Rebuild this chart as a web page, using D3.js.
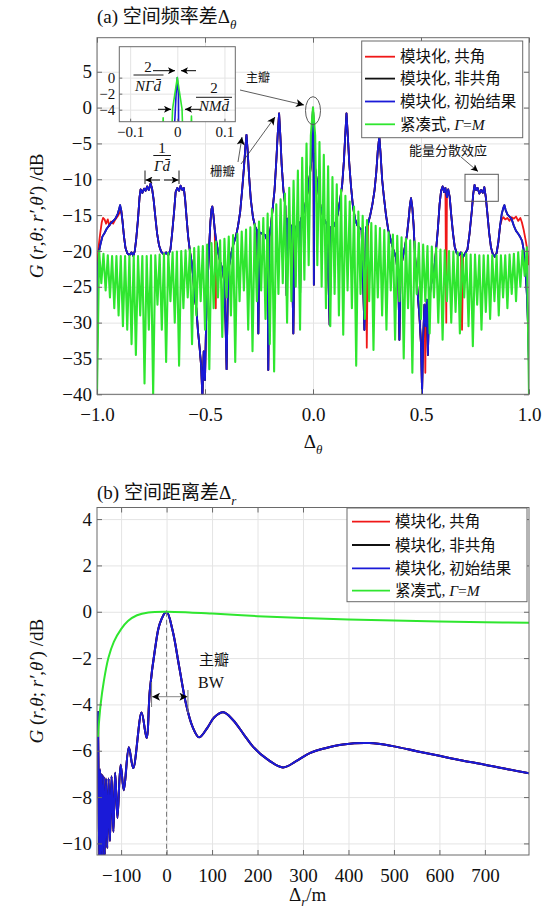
<!DOCTYPE html>
<html><head><meta charset="utf-8">
<script src="https://cdn.jsdelivr.net/npm/d3@7/dist/d3.min.js"></script>
<style>
body{margin:0;background:#fff}
svg{display:block}
text{font-family:"Liberation Serif","Times New Roman","Noto Sans CJK SC",serif;fill:#111}
</style>
</head><body>
<svg id="c" width="547" height="919"></svg>
<script>
// ---------------- DATA ----------------
const seriesNames = ["模块化, 共角", "模块化, 非共角", "模块化, 初始结果", "紧凑式, "];
const seriesColors = ["#f01818", "#111111", "#1a1ad8", "#2fe62f"];

const thetaTicks = [-1, -0.5, 0, 0.5, 1];
const thetaTickLabels = ["−1.0", "−0.5", "0.0", "0.5", "1.0"];
const gainTicksA = [-40, -35, -30, -25, -20, -15, -10, -5, 0, 5];
const gainTickLabelsA = ["−40", "−35", "−30", "−25", "−20", "−15", "−10", "−5", "0", "5"];
const insetXTicks = [-0.1, 0, 0.1];
const insetXTickLabels = ["−0.1", "0", "0.1"];
const insetYTicks = [0, -2, -4];
const insetYTickLabels = ["0", "−2", "−4"];
const rangeTicks = [-100, 0, 100, 200, 300, 400, 500, 600, 700];
const rangeTickLabels = ["−100", "0", "100", "200", "300", "400", "500", "600", "700"];
const gainTicksB = [-10, -8, -6, -4, -2, 0, 2, 4];
const gainTickLabelsB = ["−10", "−8", "−6", "−4", "−2", "0", "2", "4"];

// (a) modular, initial result  [Δθ, dB]
const blueTheta = [
 [-1.000,-37],[-0.998,-28],[-0.995,-22],[-0.99,-20],[-0.985,-19.2],[-0.975,-18],[-0.965,-17.5],[-0.955,-16.9],
 [-0.945,-16.5],[-0.935,-16.1],[-0.925,-15.8],[-0.915,-15.5],[-0.905,-14.9],[-0.898,-14.2],[-0.893,-13.6],
 [-0.888,-14.3],[-0.882,-15.8],[-0.875,-18.0],[-0.868,-19.6],[-0.86,-20.3],[-0.85,-20.6],[-0.84,-20.2],
 [-0.832,-20.7],[-0.825,-20.0],[-0.818,-18.2],[-0.81,-15.5],[-0.803,-12.5],[-0.798,-11.4],[-0.79,-11.9],
 [-0.782,-11.3],[-0.775,-11.6],[-0.768,-11.0],[-0.76,-11.5],[-0.752,-10.6],[-0.745,-11.3],[-0.738,-12.8],
 [-0.73,-15.2],[-0.722,-17.5],[-0.713,-19.2],[-0.703,-20.1],[-0.69,-20.5],[-0.68,-20.2],[-0.67,-20.6],
 [-0.66,-19.8],[-0.652,-17.5],[-0.643,-14.5],[-0.636,-11.8],[-0.628,-11.2],[-0.62,-11.6],[-0.613,-10.9],
 [-0.605,-11.5],[-0.598,-11.2],[-0.592,-12.8],[-0.585,-15.5],[-0.578,-18.0],[-0.570,-20.0],[-0.562,-21.5],
 [-0.555,-23.5],[-0.548,-26.5],[-0.54,-28.0],[-0.533,-31.0],[-0.525,-33.5],[-0.518,-36.0],[-0.512,-40.5],
 [-0.506,-34],[-0.5,-38],[-0.495,-30],[-0.488,-24.5],[-0.481,-19.5],[-0.475,-16.0],[-0.47,-14.2],
 [-0.466,-13.8],[-0.461,-15.0],[-0.455,-17.0],[-0.447,-18.8],[-0.44,-20.0],[-0.43,-21.5],[-0.42,-22.5],
 [-0.412,-24],[-0.405,-30],[-0.400,-36.5],[-0.395,-27],[-0.388,-22.0],[-0.378,-20.3],[-0.368,-19.0],
 [-0.357,-18.0],[-0.347,-16.5],[-0.337,-14.5],[-0.328,-11.5],[-0.32,-8.5],[-0.313,-5.5],[-0.308,-3.8],
 [-0.303,-5.8],[-0.296,-9.5],[-0.288,-12.8],[-0.278,-15.3],[-0.268,-16.6],[-0.258,-17.2],[-0.253,-31.5],
 [-0.248,-17.4],[-0.235,-17.6],[-0.222,-17.8],[-0.212,-18.5],[-0.207,-36.6],[-0.202,-18.0],[-0.195,-16.5],
 [-0.187,-14.2],[-0.178,-11.5],[-0.170,-7.5],[-0.163,-3.5],[-0.157,-0.8],[-0.151,-4.0],[-0.145,-8.0],
 [-0.137,-11.5],[-0.128,-13.8],[-0.122,-26.2],[-0.118,-15.5],[-0.108,-16.2],[-0.1,-16.6],[-0.091,-31.5],
 [-0.085,-16.8],[-0.075,-16.5],[-0.065,-16.0],[-0.06,-27],[-0.055,-15.5],[-0.045,-14.8],[-0.035,-13.5],
 [-0.025,-11.8],[-0.015,-9.5],[-0.008,-7.5],[-0.005,-5.0],[-0.0025,-2.0],[0,0],[0.0025,-2.2],[0.004,-24.7],
 [0.006,-6.5],[0.01,-8.5],[0.017,-10],[0.025,-11.8],[0.035,-13.8],[0.045,-15.0],[0.055,-15.8],[0.065,-16.3],
 [0.077,-30.3],[0.085,-16.6],[0.095,-16.6],[0.105,-16.0],[0.115,-14.8],[0.125,-13.0],[0.135,-10.8],
 [0.143,-7.5],[0.149,-4.0],[0.155,-0.8],[0.161,-3.8],[0.168,-7.8],[0.176,-11.0],[0.185,-13.8],[0.195,-15.6],
 [0.205,-16.4],[0.215,-16.8],[0.225,-17.0],[0.238,-31.0],[0.245,-16.8],[0.255,-16.2],[0.265,-15.0],
 [0.275,-13.5],[0.285,-11.5],[0.293,-9.0],[0.3,-6.0],[0.307,-4.0],[0.313,-6.5],[0.32,-10.0],[0.328,-12.4],
 [0.338,-15.0],[0.348,-17.0],[0.36,-18.5],[0.372,-19.8],[0.385,-21.0],[0.395,-24],[0.40,-32.4],[0.405,-23],
 [0.415,-21.0],[0.425,-19.5],[0.435,-17.8],[0.443,-15.5],[0.449,-13.5],[0.454,-12.65],[0.46,-14.0],
 [0.466,-16.5],[0.472,-20.5],[0.478,-23.1],[0.486,-26.5],[0.493,-29.2],[0.5,-33],[0.505,-39.8],[0.51,-32],
 [0.516,-27.5],[0.522,-30.5],[0.527,-26.8],[0.532,-34.5],[0.537,-28.0],[0.543,-25.5],[0.55,-24.0],
 [0.56,-23.0],[0.568,-20.5],[0.578,-17.0],[0.586,-13.5],[0.593,-11.6],[0.6,-11.0],[0.607,-11.8],
 [0.613,-11.2],[0.62,-12.5],[0.626,-11.4],[0.633,-12.5],[0.64,-15.0],[0.648,-17.5],[0.656,-19.4],
 [0.665,-20.3],[0.675,-20.6],[0.685,-20.2],[0.695,-20.8],[0.705,-20.3],[0.715,-19.8],[0.725,-17.5],
 [0.735,-14.5],[0.742,-12.0],[0.748,-10.8],[0.755,-11.5],[0.762,-11.2],[0.77,-12.0],[0.778,-11.5],
 [0.786,-11.9],[0.793,-11.1],[0.8,-12.5],[0.808,-15.0],[0.816,-17.6],[0.824,-19.5],[0.832,-20.4],
 [0.842,-20.8],[0.85,-20.3],[0.858,-18.8],[0.866,-16.5],[0.874,-14.8],[0.882,-13.9],[0.886,-13.6],
 [0.892,-14.3],[0.9,-14.9],[0.91,-15.2],[0.92,-15.6],[0.93,-16.5],[0.94,-17.2],[0.95,-17.6],[0.96,-18.1],
 [0.968,-18.6],[0.975,-19.8],[0.98,-21.5],[0.985,-23.5],[0.99,-26.0],[0.995,-30.0],[1.0,-36.1]
];
// (a) modular, common angle: where it departs from the initial result
const redThetaLeft = [
 [-1.0,-23.5],[-0.998,-21.3],[-0.993,-19.5],[-0.985,-17.5],[-0.978,-16.0],[-0.972,-15.4],[-0.965,-15.6],
 [-0.958,-16.2],[-0.95,-15.6],[-0.943,-16.5],[-0.935,-15.9],[-0.925,-16.2],[-0.915,-15.6],[-0.905,-15.2],
 [-0.898,-14.8]
];
const redThetaRight = [
 [0.874,-15.6],[0.882,-15.3],[0.89,-15.6],[0.90,-15.4],[0.91,-15.8],[0.92,-15.3],[0.93,-15.5],[0.94,-15.2],
 [0.95,-15.8],[0.96,-15.4],[0.967,-16.0],[0.975,-17.0],[0.985,-18.6],[0.993,-20.0],[1.0,-22.0]
];
const redThetaSpikes = [[-0.45,-28],[0.249,-33.5],[0.52,-37],[0.617,-30],[0.69,-31]];

// (a) compact array Γ=M : [Δθ, dB]
const greenTheta = [
 [-1.00,-40],[-0.99,-20.0],[-0.98,-24.5],[-0.97,-20.4],[-0.96,-25.5],[-0.95,-20.6],[-0.94,-26.5],[-0.93,-20.7],[-0.92,-28],[-0.91,-20.7],
 [-0.90,-29],[-0.89,-20.7],[-0.88,-30.5],[-0.87,-20.7],[-0.86,-31],[-0.85,-20.7],[-0.84,-33],[-0.83,-20.7],[-0.82,-34.5],[-0.81,-20.7],
 [-0.80,-29],[-0.79,-20.7],[-0.78,-38.5],[-0.77,-20.7],[-0.76,-31],[-0.75,-20.6],[-0.74,-40],[-0.73,-20.6],[-0.72,-27.5],[-0.71,-20.5],
 [-0.70,-31],[-0.69,-20.4],[-0.68,-35.5],[-0.67,-20.3],[-0.66,-27],[-0.65,-20.2],[-0.64,-30],[-0.63,-20.1],[-0.62,-36],[-0.61,-20.0],
 [-0.60,-28],[-0.59,-19.9],[-0.58,-26.5],[-0.57,-19.8],[-0.56,-33],[-0.55,-19.6],[-0.54,-29],[-0.53,-19.4],[-0.52,-27],[-0.51,-19.3],
 [-0.50,-31],[-0.49,-19.1],[-0.48,-36.5],[-0.47,-18.9],[-0.46,-28],[-0.45,-18.7],[-0.44,-26.5],[-0.43,-18.5],[-0.42,-32],[-0.41,-18.3],
 [-0.40,-26.5],[-0.39,-18.0],[-0.38,-29],[-0.37,-17.8],[-0.36,-35.5],[-0.35,-17.6],[-0.34,-27],[-0.33,-17.3],[-0.32,-25.5],[-0.31,-17.0],
 [-0.30,-31],[-0.29,-16.7],[-0.28,-34],[-0.27,-16.3],[-0.26,-27],[-0.25,-15.9],[-0.24,-25.5],[-0.23,-15.4],[-0.22,-29.5],[-0.21,-14.8],
 [-0.20,-33],[-0.19,-14.2],[-0.18,-36.8],[-0.17,-13.5],[-0.16,-26],[-0.15,-12.8],[-0.14,-24.5],[-0.13,-12.0],[-0.12,-30],[-0.11,-11.2],
 [-0.10,-27],[-0.09,-10.2],[-0.08,-25],[-0.07,-8.8],[-0.06,-31],[-0.05,-7.0],[-0.04,-24],[-0.03,-5.0],[-0.02,-22],[-0.01,-3.9],
 [0.00,0],
 [0.01,-3.9],[0.02,-22],[0.03,-4.8],[0.04,-25],[0.05,-6.6],[0.06,-28],[0.07,-8.2],[0.08,-30.5],[0.09,-9.7],[0.10,-26],
 [0.11,-10.7],[0.12,-29],[0.13,-11.5],[0.14,-31.7],[0.15,-12.3],[0.16,-25.5],[0.17,-13.1],[0.18,-28],[0.19,-13.8],[0.20,-36],
 [0.21,-14.5],[0.22,-26],[0.23,-15.1],[0.24,-29.5],[0.25,-15.7],[0.26,-27],[0.27,-16.1],[0.28,-33.8],[0.29,-16.5],[0.30,-26.5],
 [0.31,-16.8],[0.32,-29],[0.33,-17.1],[0.34,-31],[0.35,-17.4],[0.36,-25.5],[0.37,-17.7],[0.38,-32.4],[0.39,-17.9],[0.40,-27],
 [0.41,-18.1],[0.42,-35],[0.43,-18.3],[0.44,-28],[0.45,-18.5],[0.46,-37],[0.47,-18.7],[0.48,-26],[0.49,-18.9],[0.50,-29.5],
 [0.51,-19.1],[0.52,-27],[0.53,-19.3],[0.54,-31.5],[0.55,-19.4],[0.56,-26.5],[0.57,-19.6],[0.58,-30],[0.59,-19.8],[0.60,-32.4],
 [0.61,-19.9],[0.62,-27],[0.63,-20.0],[0.64,-30],[0.65,-20.1],[0.66,-28.5],[0.67,-20.2],[0.68,-31.5],[0.69,-20.3],[0.70,-26.5],
 [0.71,-20.4],[0.72,-30.5],[0.73,-20.5],[0.74,-33.3],[0.75,-20.5],[0.76,-27.5],[0.77,-20.6],[0.78,-31],[0.79,-20.6],[0.80,-28.5],
 [0.81,-20.6],[0.82,-29.5],[0.83,-20.6],[0.84,-27],[0.85,-20.6],[0.86,-29],[0.87,-20.6],[0.88,-26.5],[0.89,-20.6],[0.90,-28],
 [0.91,-20.5],[0.92,-26],[0.93,-20.4],[0.94,-27],[0.95,-20.2],[0.96,-25],[0.97,-19.9],[0.98,-23.5],[0.99,-19.5],[1.00,-40]
];

// (b) range difference [Δr (m), dB]
const blueRange = [
 [-151,-4.3],[-149.5,-7.5],[-148,-10.7],[-146.3,-6.8],[-144.5,-10.7],[-142.5,-7.0],[-140.5,-10.7],[-138.3,-7.1],
 [-136,-10.5],[-133.3,-7.2],[-130.5,-10.2],[-127.5,-7.2],[-124.5,-9.9],[-121,-7.1],[-117,-9.5],[-113,-6.95],
 [-108,-8.9],[-101,-6.6],[-94,-7.7],[-83,-5.85],[-73.3,-6.75],[-55,-4.35],[-44,-5.45],[-36.7,-3.37],
 [-25.7,-1.65],[-14.7,-0.5],[0,0],[13,-0.79],[27.7,-2.37],[42.4,-3.95],[57,-4.96],[71.7,-5.42],[90,-5.0],
 [105,-4.55],[125,-4.34],[146,-4.67],[170,-5.3],[190,-5.82],[219,-6.33],[256,-6.72],[285,-6.45],[315,-6.1],
 [351,-5.88],[388,-5.73],[446,-5.67],[497,-5.8],[550,-6.02],[600,-6.22],[650,-6.42],[700,-6.6],[750,-6.8],[797,-6.97]
];
const greenRange = [
 [-151,-5.4],[-145,-4.0],[-138,-3.0],[-128,-2.0],[-116,-1.3],[-100,-0.75],[-85,-0.4],[-65,-0.15],[-40,-0.03],
 [0,0],[50,-0.03],[100,-0.08],[200,-0.19],[300,-0.27],[400,-0.33],[500,-0.38],[600,-0.42],[700,-0.45],[797,-0.48]
];

// ---------------- DRAW ----------------
const svg = d3.select("#c");
const defs = svg.append("defs");
defs.append("marker").attr("id","ah").attr("viewBox","0 0 10 10").attr("refX",10).attr("refY",5)
  .attr("markerWidth",10).attr("markerHeight",8).attr("markerUnits","userSpaceOnUse")
  .attr("orient","auto-start-reverse")
  .append("path").attr("d","M0,0 L10,5 L0,10 L2.5,5 z").attr("fill","#000");
defs.append("marker").attr("id","ahs").attr("viewBox","0 0 10 10").attr("refX",10).attr("refY",5)
  .attr("markerWidth",9).attr("markerHeight",7).attr("markerUnits","userSpaceOnUse")
  .attr("orient","auto-start-reverse")
  .append("path").attr("d","M0,0 L10,5 L0,10 L2.5,5 z").attr("fill","#000");

const PA = {l:97, r:529, t:37.7, b:394.3};
const PB = {l:97, r:529, t:507.5, b:855};
const xA = d3.scaleLinear().domain([-1,1]).range([PA.l,PA.r]);
const yA = d3.scaleLinear().domain([-40,9.75]).range([PA.b,PA.t]);
const xB = d3.scaleLinear().domain([-153,797]).range([PB.l,PB.r]);
const yB = d3.scaleLinear().domain([-10.5,4.5]).range([PB.b,PB.t]);

function clip(id,P){
  defs.append("clipPath").attr("id",id).append("rect")
    .attr("x",P.l).attr("y",P.t).attr("width",P.r-P.l).attr("height",P.b-P.t);
}
clip("cA",PA); clip("cB",PB);

function grid(P,x,y,xt,yt){
  const g = svg.append("g");
  g.append("g").attr("transform",`translate(0,${P.b})`)
    .call(d3.axisBottom(x).tickValues(xt).tickSize(-(P.b-P.t)).tickFormat(""))
    .call(s=>{s.select(".domain").remove(); s.selectAll("line").attr("stroke","#e4e4e4");});
  g.append("g").attr("transform",`translate(${P.l},0)`)
    .call(d3.axisLeft(y).tickValues(yt).tickSize(-(P.r-P.l)).tickFormat(""))
    .call(s=>{s.select(".domain").remove(); s.selectAll("line").attr("stroke","#e4e4e4");});
}
function frame(P,x,y,xt,xl,yt,yl,fs,tl,xpad){
  const g = svg.append("g");
  const style = s=>{s.select(".domain").remove(); s.selectAll("line").attr("stroke","#6a6a6a");
    s.selectAll("text").attr("font-family",'"Liberation Serif","Times New Roman",serif').attr("font-size",fs).attr("fill","#111");};
  g.append("g").attr("transform",`translate(0,${P.b})`)
    .call(d3.axisBottom(x).tickValues(xt).tickFormat((d,i)=>xl[i]).tickSizeInner(-tl).tickSizeOuter(0).tickPadding(xpad)).call(style);
  g.append("g").attr("transform",`translate(0,${P.t})`)
    .call(d3.axisTop(x).tickValues(xt).tickFormat("").tickSizeInner(-tl).tickSizeOuter(0)).call(style);
  g.append("g").attr("transform",`translate(${P.l},0)`)
    .call(d3.axisLeft(y).tickValues(yt).tickFormat((d,i)=>yl[i]).tickSizeInner(-tl).tickSizeOuter(0).tickPadding(5)).call(style);
  g.append("g").attr("transform",`translate(${P.r},0)`)
    .call(d3.axisRight(y).tickValues(yt).tickFormat("").tickSizeInner(-tl).tickSizeOuter(0)).call(style);
  g.append("rect").attr("x",P.l).attr("y",P.t).attr("width",P.r-P.l).attr("height",P.b-P.t)
    .attr("fill","none").attr("stroke","#6a6a6a").attr("stroke-width",1);
}
function curve(clipId,data,x,y,color,w,cv){
  const line = d3.line().x(d=>x(d[0])).y(d=>y(d[1])).curve(cv||d3.curveLinear);
  svg.append("path").attr("clip-path",`url(#${clipId})`).attr("d",line(data))
    .attr("fill","none").attr("stroke",color).attr("stroke-width",w).attr("stroke-linejoin","round");
}
function txt(x,y,s,o){
  const t = svg.append("text").attr("x",x).attr("y",y).text(s);
  if(o) for(const k in o) t.attr(k,o[k]);
  return t;
}
function line(x1,y1,x2,y2,o){
  const l = svg.append("line").attr("x1",x1).attr("y1",y1).attr("x2",x2).attr("y2",y2)
    .attr("stroke","#000").attr("stroke-width",1);
  if(o) for(const k in o) l.attr(k,o[k]);
  return l;
}
const CJK = '"Noto Sans CJK SC",sans-serif';

// ===== Panel (a) =====
grid(PA,xA,yA,thetaTicks,gainTicksA);
const redTheta = redThetaLeft
  .concat(blueTheta.filter(d=>d[0]>-0.89 && d[0]<0.87), redThetaSpikes)
  .sort((a,b)=>a[0]-b[0]).concat(redThetaRight);
curve("cA",redTheta,xA,yA,seriesColors[0],1.8);
curve("cA",blueTheta,xA,yA,seriesColors[1],1.8);
curve("cA",blueTheta,xA,yA,seriesColors[2],1.8);
curve("cA",greenTheta,xA,yA,seriesColors[3],2.1);
frame(PA,xA,yA,thetaTicks,thetaTickLabels,gainTicksA,gainTickLabelsA,19,5,13.5);

// title (a)
const tA = txt(97,23,"(a) ",{"font-size":19});
tA.append("tspan").attr("font-family",CJK).text("空间频率差");
tA.append("tspan").text("Δ");
tA.append("tspan").attr("font-style","italic").attr("font-size",13).attr("dy",6).text("θ");
// x label (a)
const xlA = txt(313,448,"Δ",{"font-size":19,"text-anchor":"middle"});
xlA.append("tspan").attr("font-style","italic").attr("font-size",13).attr("dy",6).text("θ");

function ylabel(cy){
  const t = svg.append("text").attr("transform",`translate(43,${cy}) rotate(-90)`)
    .attr("text-anchor","middle").attr("font-size",19);
  t.append("tspan").attr("font-style","italic").text("G");
  t.append("tspan").text(" (");
  t.append("tspan").attr("font-style","italic").text("r");
  t.append("tspan").text(",");
  t.append("tspan").attr("font-style","italic").text("θ");
  t.append("tspan").text("; ");
  t.append("tspan").attr("font-style","italic").text("r′");
  t.append("tspan").text(",");
  t.append("tspan").attr("font-style","italic").text("θ′");
  t.append("tspan").text(") /dB");
}
ylabel((PA.t+PA.b)/2);

// inset
const PI = {l:119.3, r:235.3, t:46.7, b:121.7};
const xI = d3.scaleLinear().domain([-0.123,0.123]).range([PI.l,PI.r]);
const yI = d3.scaleLinear().domain([-5.5,3.86]).range([PI.b,PI.t]);
clip("cI",PI);
svg.append("rect").attr("x",PI.l).attr("y",PI.t).attr("width",PI.r-PI.l).attr("height",PI.b-PI.t).attr("fill","#fff");
grid(PI,xI,yI,insetXTicks,insetYTicks);
curve("cI",blueTheta,xI,yI,seriesColors[2],1.6);
curve("cI",greenTheta,xI,yI,seriesColors[3],1.6);
{
  const g = svg.append("g");
  const style = s=>{s.select(".domain").remove(); s.selectAll("line").attr("stroke","#6a6a6a");
    s.selectAll("text").attr("font-family",'"Liberation Serif",serif').attr("font-size",15).attr("fill","#111");};
  g.append("g").attr("transform",`translate(0,${PI.b})`)
    .call(d3.axisBottom(xI).tickValues(insetXTicks).tickFormat((d,i)=>insetXTickLabels[i]).tickSizeInner(-3).tickSizeOuter(0).tickPadding(5)).call(style);
  g.append("g").attr("transform",`translate(${PI.l},0)`)
    .call(d3.axisLeft(yI).tickValues(insetYTicks).tickFormat((d,i)=>insetYTickLabels[i]).tickSizeInner(-3).tickSizeOuter(0).tickPadding(4)).call(style);
  g.append("rect").attr("x",PI.l).attr("y",PI.t).attr("width",PI.r-PI.l).attr("height",PI.b-PI.t)
    .attr("fill","none").attr("stroke","#6a6a6a");
}
// inset annotations
function frac(cx,yNum,yBar,yDen,x1,x2,den,fs){
  txt(cx,yNum,"2",{"font-size":fs,"text-anchor":"middle"});
  line(x1,yBar,x2,yBar,{"stroke-width":0.9});
  txt(cx,yDen,den,{"font-size":fs,"text-anchor":"middle","font-style":"italic"});
}
frac(148,71.5,75,91,133.5,163.5,"NΓd̄",15);
frac(214,93,97.3,110.5,196,232,"NMd̄",15);
line(153,70.7,175,70.7,{"marker-end":"url(#ahs)"});
line(196,70.7,181,70.7,{"marker-end":"url(#ahs)"});
line(158,109.3,171,109.3,{"marker-end":"url(#ahs)"});
line(201,109.3,185,109.3,{"marker-end":"url(#ahs)"});

// main-lobe / grating-lobe annotations
const grey = "#5a5a5a";
svg.append("ellipse").attr("cx",xA(0)).attr("cy",110.7).attr("rx",7.5).attr("ry",14)
  .attr("fill","none").attr("stroke",grey).attr("stroke-width",1);
txt(246,82,"主瓣",{"font-size":12,"fill":grey,"font-family":CJK});
line(240,90,304,105,{"stroke":"#333","stroke-width":0.8,"marker-end":"url(#ah)"});
txt(210,176,"栅瓣",{"font-size":12.5,"fill":grey,"font-family":CJK});
line(238,162,242,137,{"stroke":"#333","stroke-width":0.8,"marker-end":"url(#ah)"});
line(241,164,275,117,{"stroke":"#333","stroke-width":0.8,"marker-end":"url(#ah)"});
// 1/(Γd̄)
txt(162,152.5,"1",{"font-size":15,"text-anchor":"middle"});
line(153.3,155.5,171,155.5,{"stroke-width":0.9});
txt(162,170.5,"Γd̄",{"font-size":15,"text-anchor":"middle","font-style":"italic"});
line(145,170.5,145,184,{"stroke-width":0.9});
line(179,170.5,179,184,{"stroke-width":0.9});
line(160,180,145.5,180,{"marker-end":"url(#ahs)"});
line(164,180,178.5,180,{"marker-end":"url(#ahs)"});
// energy dispersion
txt(448,155,"能量分散效应",{"font-size":13,"fill":grey,"text-anchor":"middle","font-family":CJK});
line(461,157,478,171.5,{"stroke":"#333","stroke-width":0.8,"marker-end":"url(#ahs)"});
svg.append("rect").attr("x",465).attr("y",174.3).attr("width",33.3).attr("height",27)
  .attr("fill","none").attr("stroke",grey).attr("stroke-width",1);

// legend
function legend(bx,by,bw,bh,rows,lx1,lx2,tx){
  svg.append("rect").attr("x",bx).attr("y",by).attr("width",bw).attr("height",bh)
    .attr("fill","#fff").attr("stroke","#6a6a6a").attr("stroke-width",1);
  rows.forEach((ry,i)=>{
    line(lx1,ry,lx2,ry,{"stroke":seriesColors[i],"stroke-width":1.8});
    const t = svg.append("text").attr("x",tx).attr("y",ry+5.5).attr("font-size",15.5)
      .attr("font-family",'"Liberation Serif","Noto Sans CJK SC",serif');
    t.append("tspan").attr("font-family",CJK).text(seriesNames[i].split(",")[0]);
    t.append("tspan").text(", ");
    const rest = seriesNames[i].split(",")[1].trim();
    if(rest) t.append("tspan").attr("font-family",CJK).text(rest);
    else {
      t.append("tspan").attr("font-style","italic").text("Γ");
      t.append("tspan").text("=");
      t.append("tspan").attr("font-style","italic").text("M");
    }
  });
}
legend(361.7,41,161,96.7,[56.7,78.6,101.5,124.3],365,395,400);

// ===== Panel (b) =====
grid(PB,xB,yB,rangeTicks,gainTicksB);
curve("cB",blueRange,xB,yB,seriesColors[0],2,d3.curveCatmullRom);
curve("cB",blueRange,xB,yB,seriesColors[1],2,d3.curveCatmullRom);
curve("cB",blueRange,xB,yB,seriesColors[2],2,d3.curveCatmullRom);
curve("cB",greenRange,xB,yB,seriesColors[3],2,d3.curveCatmullRom);
line(xB(0),yB(0),xB(0),PB.b,{"stroke":"#777","stroke-dasharray":"5,3","stroke-width":1});
frame(PB,xB,yB,rangeTicks,rangeTickLabels,gainTicksB,gainTickLabelsB,19,5,13.5);

const tB = txt(97,499,"(b) ",{"font-size":19});
tB.append("tspan").attr("font-family",CJK).text("空间距离差");
tB.append("tspan").text("Δ");
tB.append("tspan").attr("font-style","italic").attr("font-size",13).attr("dy",6).text("r");
const xlB = txt(289,901,"Δ",{"font-size":19});
xlB.append("tspan").attr("font-style","italic").attr("font-size",13).attr("dy",5).text("r");
xlB.append("tspan").attr("dy",-5).text("/m");
ylabel((PB.t+PB.b)/2);

// BW annotation
txt(199,665,"主瓣",{"font-size":15,"fill":grey,"font-family":CJK});
txt(198,688,"BW",{"font-size":16,"fill":grey});
line(xB(-33),682,xB(-33),707,{"stroke":"#777","stroke-width":1});
line(xB(47),690,xB(47),713,{"stroke":"#777","stroke-width":1});
line(168,696.7,xB(-33)+0.5,696.7,{"stroke":"#888","marker-end":"url(#ah)"});
line(168,696.7,xB(47)-0.5,696.7,{"stroke":"#888","marker-end":"url(#ah)"});

legend(347,508,180,93.7,[521.7,545,568.3,590.7],352,390,395);
</script>
</body></html>
